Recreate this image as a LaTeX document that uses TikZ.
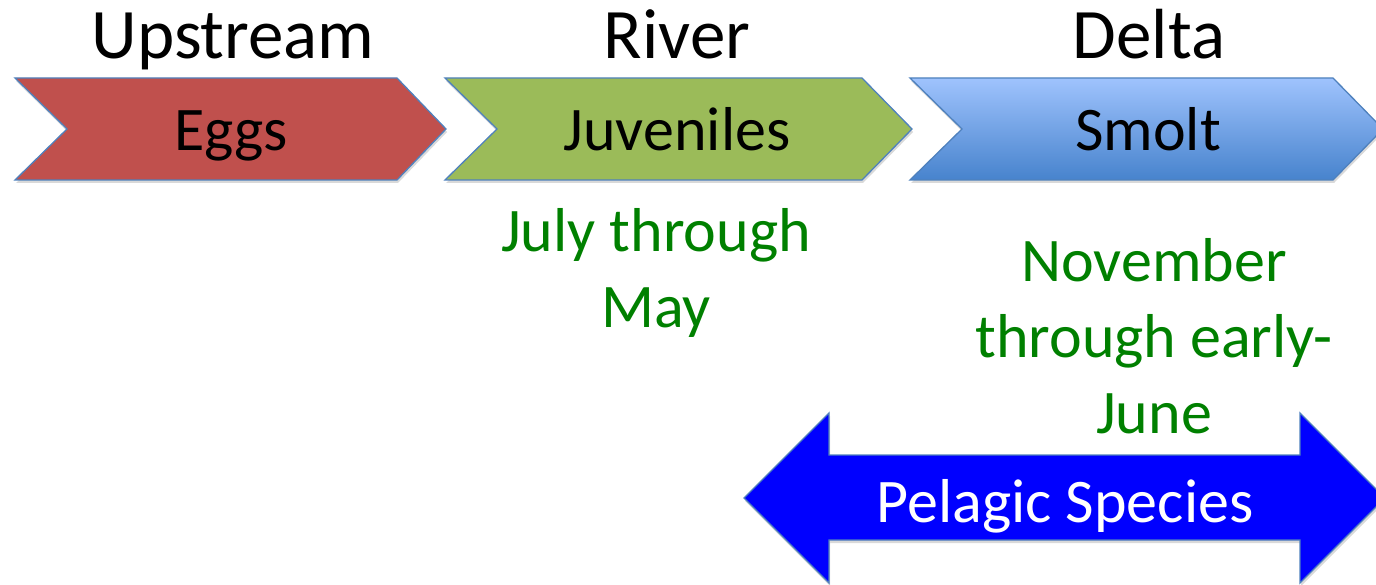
\documentclass[tikz,border=0pt]{standalone}
\usepackage{fontspec}
\setmainfont{Carlito}
\usetikzlibrary{shadows}

\definecolor{eggred}{HTML}{C0504D}
\definecolor{juvgreen}{HTML}{9BBB59}
\definecolor{smolttop}{HTML}{9FC3FD}
\definecolor{smoltbot}{HTML}{4783CD}
\definecolor{edgeblue}{HTML}{4F81BD}
\definecolor{pelagicblue}{HTML}{0000FF}
\definecolor{monthgreen}{HTML}{008000}

\begin{document}
\begin{tikzpicture}[x=1pt, y=-1pt,
    chev/.style={draw=edgeblue, line width=1.3pt, line join=miter,
      drop shadow={opacity=0.3, shadow xshift=1pt, shadow yshift=-3pt}},
    heading/.style={anchor=base, inner sep=0pt, font=\fontsize{71}{85}\selectfont},
    stage/.style={anchor=base, inner sep=0pt, font=\fontsize{62}{76}\selectfont},
    months/.style={anchor=base, inner sep=0pt, align=center, text=monthgreen,
      font=\fontsize{62}{76}\selectfont}]
    \useasboundingbox (0,0) rectangle (1376,585);

    % stage chevrons
    \draw[chev, fill=eggred] (15,78) -- (397,78) -- (446,129) -- (397,180) -- (15,180) -- (67,129) -- cycle;
    \draw[chev, fill=juvgreen] (445,78) -- (862,78) -- (912,129) -- (862,180) -- (445,180) -- (497,129) -- cycle;
    \draw[chev, top color=smolttop, bottom color=smoltbot] (910,78) -- (1333,78) -- (1383,129) -- (1333,180) -- (910,180) -- (962,129) -- cycle;

    \node[heading] (upstream) at (233,59) {Upstream};
    \node[heading] (river) at (677,59) {River};
    \node[heading] (delta) at (1149,59) {Delta};

    \node[stage] (eggs) at (231,151) {Eggs};
    \node[stage] (juveniles) at (677,151) {Juveniles};
    \node[stage] (smolt) at (1148,151) {Smolt};

    % base anchor sits on the last line
    \node[months] (julymay) at (656,327) {July through\\May};
    \node[months] (novjune) at (1154,433) {November\\through early-\\June};

    % pelagic double arrow
    \draw[chev, fill=pelagicblue] (744,498) -- (829,413) -- (829,455) -- (1300,455) -- (1300,413) -- (1385,498)
      -- (1300,583) -- (1300,540) -- (829,540) -- (829,583) -- cycle;
    \node[stage, text=white] (pelagic) at (1065,522) {Pelagic Species};
\end{tikzpicture}
\end{document}
